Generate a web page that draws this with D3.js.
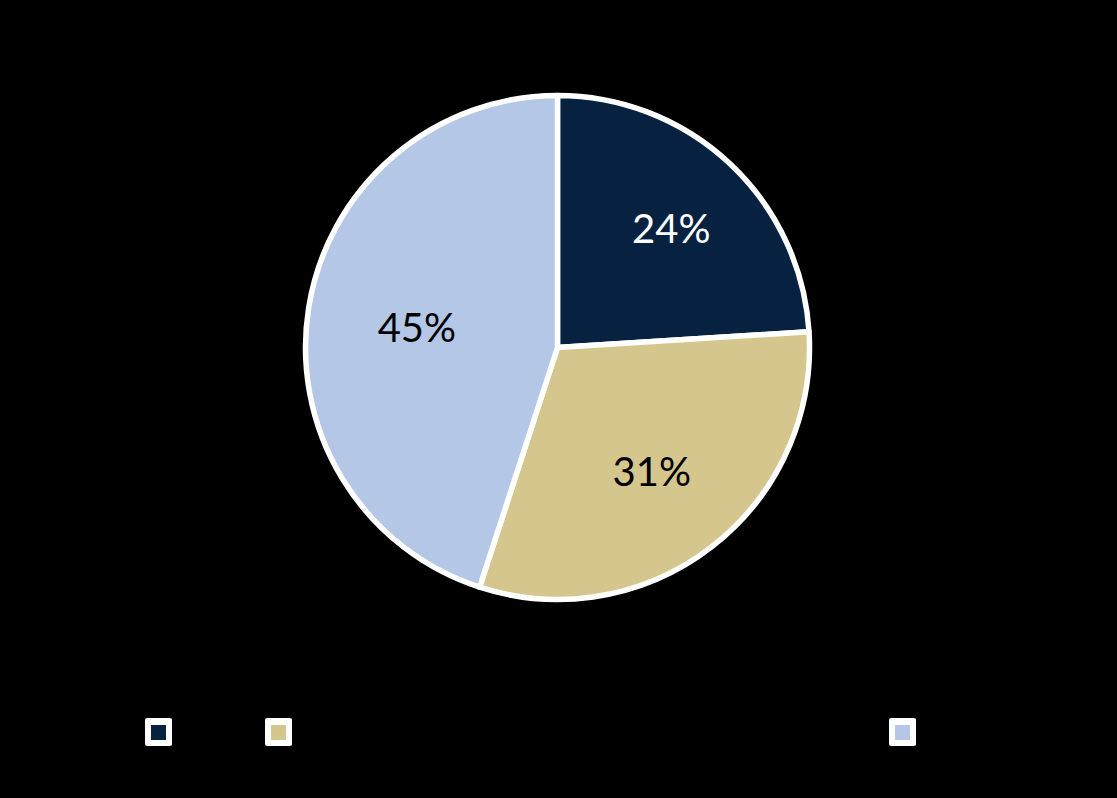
<!DOCTYPE html>
<html>
<head>
<meta charset="utf-8">
<script src="https://cdn.jsdelivr.net/npm/d3@7"></script>
<style>
  html, body { margin: 0; padding: 0; background: #000; }
  svg { display: block; }
</style>
</head>
<body>
<svg id="chart" width="1117" height="798"></svg>
<script>
// data
var categories = ["Category 1", "Category 2", "Category 3"];
var values = [24, 31, 45];
var colors = ["#062240", "#D5C68D", "#B4C7E7"];
var labelColors = ["#ffffff", "#000000", "#000000"];

var svg = d3.select('#chart');
var cx = 557.5, cy = 347.5, radius = 252;

// label distance from centre, as a share of the radius (layout only)
var labelPos = [0.66, 0.61, 0.565];

var pie = d3.pie().sort(null).value(function (d) { return d; });
var arcs = pie(values);

var arc = d3.arc().innerRadius(0).outerRadius(radius);

var g = svg.append('g').attr('transform', 'translate(' + cx + ',' + cy + ')');

g.selectAll('path.slice')
    .data(arcs)
    .enter()
    .append('path')
    .attr('class', 'slice')
    .attr('d', arc)
    .style('fill', function (d, i) { return colors[i]; })
    .style('stroke', '#ffffff')
    .style('stroke-width', 5.5)
    .style('stroke-linejoin', 'round');

g.selectAll('text.lbl')
    .data(arcs)
    .enter()
    .append('text')
    .attr('class', 'lbl')
    .attr('transform', function (d, i) {
        var r = radius * labelPos[i];
        var c = d3.arc().innerRadius(r).outerRadius(r).centroid(d);
        return 'translate(' + c[0] + ',' + (c[1] + 3) + ')';
    })
    .attr('text-anchor', 'middle')
    .attr('dy', '0.35em')
    .style('font-family', 'Lato, sans-serif')
    .style('font-size', '40px')
    .style('fill', function (d, i) { return labelColors[i]; })
    .text(function (d) { return d.value + '%'; });

// legend (text is black on the black page, as in the reference)
var legendX = [145, 265, 889];
var legend = svg.selectAll('g.legend')
    .data(categories)
    .enter()
    .append('g')
    .attr('class', 'legend')
    .attr('transform', function (d, i) { return 'translate(' + legendX[i] + ',718)'; });

legend.append('rect')
    .attr('width', 27)
    .attr('height', 28)
    .attr('rx', 2)
    .style('fill', '#ffffff');

legend.append('rect')
    .attr('x', 6)
    .attr('y', 7)
    .attr('width', 15)
    .attr('height', 15)
    .style('fill', function (d, i) { return colors[i]; });

legend.append('text')
    .attr('x', 36)
    .attr('y', 14)
    .attr('dy', '0.35em')
    .style('font-family', 'Lato, sans-serif')
    .style('font-size', '20px')
    .style('fill', '#000000')
    .text(function (d) { return d; });
</script>
</body>
</html>
